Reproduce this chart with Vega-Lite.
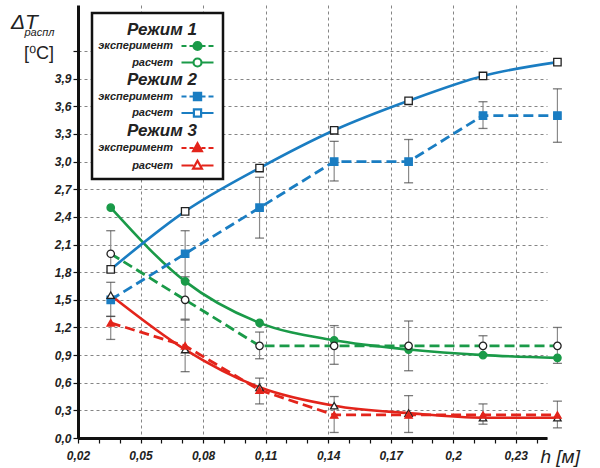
{
  "$schema": "https://vega.github.io/schema/vega-lite/v6.json",
  "width": 469,
  "height": 433,
  "autosize": {"type": "none"},
  "padding": {"left": 78, "top": 5, "right": 53, "bottom": 30},
  "background": "white",
  "title": {
    "text": "ΔT",
    "subtitle": "⠀[⁰C]",
    "anchor": "start",
    "frame": "group",
    "orient": "top",
    "offset": 0,
    "dx": -67,
    "dy": 58,
    "font": "Liberation Sans",
    "fontSize": 21,
    "fontStyle": "italic",
    "fontWeight": "normal",
    "color": "#222",
    "subtitleFont": "Liberation Sans",
    "subtitleFontSize": 18,
    "subtitleFontStyle": "normal",
    "subtitleColor": "#222",
    "subtitlePadding": 12
  },
  "config": {
    "view": {"stroke": null},
    "axis": {
      "labelFont": "Liberation Sans",
      "labelFontWeight": "bold",
      "labelFontStyle": "italic",
      "labelFontSize": 12,
      "labelColor": "#222",
      "domainColor": "#111",
      "domainWidth": 3,
      "tickColor": "#111",
      "tickWidth": 1.2,
      "tickSize": 5,
      "gridColor": "#777",
      "gridDash": [3, 3],
      "gridWidth": 0.9,
      "labelFlush": false,
      "labelOverlap": false,
      "titleFont": "Liberation Sans",
      "titleColor": "#222"
    }
  },
  "datasets": {
    "series": [
      {"h": 0.0357, "v": 2.5, "s": "1c"},
      {"h": 0.0714, "v": 1.7, "s": "1c"},
      {"h": 0.1071, "v": 1.25, "s": "1c"},
      {"h": 0.1429, "v": 1.06, "s": "1c"},
      {"h": 0.1786, "v": 0.96, "s": "1c"},
      {"h": 0.2143, "v": 0.9, "s": "1c"},
      {"h": 0.25, "v": 0.87, "s": "1c"},
      {"h": 0.0357, "v": 2.0, "s": "1e"},
      {"h": 0.0714, "v": 1.5, "s": "1e"},
      {"h": 0.1071, "v": 1.0, "s": "1e"},
      {"h": 0.1429, "v": 1.0, "s": "1e"},
      {"h": 0.1786, "v": 1.0, "s": "1e"},
      {"h": 0.2143, "v": 1.0, "s": "1e"},
      {"h": 0.25, "v": 1.0, "s": "1e"},
      {"h": 0.0357, "v": 1.83, "s": "2c"},
      {"h": 0.0714, "v": 2.46, "s": "2c"},
      {"h": 0.1071, "v": 2.93, "s": "2c"},
      {"h": 0.1429, "v": 3.34, "s": "2c"},
      {"h": 0.1786, "v": 3.66, "s": "2c"},
      {"h": 0.2143, "v": 3.93, "s": "2c"},
      {"h": 0.25, "v": 4.08, "s": "2c"},
      {"h": 0.0357, "v": 1.5, "s": "2e"},
      {"h": 0.0714, "v": 2.0, "s": "2e"},
      {"h": 0.1071, "v": 2.5, "s": "2e"},
      {"h": 0.1429, "v": 3.0, "s": "2e"},
      {"h": 0.1786, "v": 3.0, "s": "2e"},
      {"h": 0.2143, "v": 3.5, "s": "2e"},
      {"h": 0.25, "v": 3.5, "s": "2e"},
      {"h": 0.0357, "v": 1.55, "s": "3c"},
      {"h": 0.0714, "v": 0.96, "s": "3c"},
      {"h": 0.1071, "v": 0.55, "s": "3c"},
      {"h": 0.1429, "v": 0.35, "s": "3c"},
      {"h": 0.1786, "v": 0.27, "s": "3c"},
      {"h": 0.2143, "v": 0.22, "s": "3c"},
      {"h": 0.25, "v": 0.22, "s": "3c"},
      {"h": 0.0357, "v": 1.25, "s": "3e"},
      {"h": 0.0714, "v": 1.0, "s": "3e"},
      {"h": 0.1071, "v": 0.52, "s": "3e"},
      {"h": 0.1429, "v": 0.25, "s": "3e"},
      {"h": 0.1786, "v": 0.25, "s": "3e"},
      {"h": 0.2143, "v": 0.25, "s": "3e"},
      {"h": 0.25, "v": 0.25, "s": "3e"}
    ],
    "err": [
      {"h": 0.0357, "lo": 1.8, "hi": 2.25, "s": "1e"},
      {"h": 0.0357, "lo": 1.32, "hi": 1.69, "s": "2e"},
      {"h": 0.0357, "lo": 1.07, "hi": 1.32, "s": "3e"},
      {"h": 0.0714, "lo": 1.75, "hi": 2.25, "s": "2e"},
      {"h": 0.0714, "lo": 1.29, "hi": 1.71, "s": "1e"},
      {"h": 0.0714, "lo": 0.72, "hi": 1.28, "s": "3e"},
      {"h": 0.1071, "lo": 2.17, "hi": 2.83, "s": "2e"},
      {"h": 0.1071, "lo": 0.86, "hi": 1.15, "s": "1e"},
      {"h": 0.1071, "lo": 0.37, "hi": 0.65, "s": "3e"},
      {"h": 0.1429, "lo": 2.79, "hi": 3.22, "s": "2e"},
      {"h": 0.1429, "lo": 0.8, "hi": 1.22, "s": "1e"},
      {"h": 0.1429, "lo": 0.06, "hi": 0.45, "s": "3e"},
      {"h": 0.1786, "lo": 2.77, "hi": 3.24, "s": "2e"},
      {"h": 0.1786, "lo": 0.73, "hi": 1.27, "s": "1e"},
      {"h": 0.1786, "lo": 0.06, "hi": 0.46, "s": "3e"},
      {"h": 0.2143, "lo": 3.36, "hi": 3.65, "s": "2e"},
      {"h": 0.2143, "lo": 0.91, "hi": 1.11, "s": "1e"},
      {"h": 0.2143, "lo": 0.15, "hi": 0.37, "s": "3e"},
      {"h": 0.25, "lo": 3.21, "hi": 3.79, "s": "2e"},
      {"h": 0.25, "lo": 0.81, "hi": 1.2, "s": "1e"},
      {"h": 0.25, "lo": 0.11, "hi": 0.4, "s": "3e"}
    ]
  },
  "layer": [
    {
      "data": {"name": "err"},
      "mark": {"type": "rule", "color": "#8a8a8a", "strokeWidth": 1.2},
      "encoding": {
        "x": {
          "field": "h", "type": "quantitative",
          "scale": {"domain": [0.02, 0.245], "nice": false, "zero": false},
          "axis": {
            "title": "h [м]",
            "titleX": 462, "titleY": 24, "titleAlign": "left", "titleBaseline": "alphabetic",
            "titleFontSize": 19, "titleFontStyle": "italic", "titleFontWeight": "normal",
            "values": [0.02, 0.03, 0.04, 0.05, 0.06, 0.07, 0.08, 0.09, 0.1, 0.11, 0.12, 0.13, 0.14, 0.15, 0.16, 0.17, 0.18, 0.19, 0.2, 0.21, 0.22, 0.23, 0.24],
            "tickCount": 100,
            "labelExpr": "abs(round((datum.value-0.02)/0.03)*0.03-(datum.value-0.02))<0.001 ? replace(format(datum.value,'.2~f'),'.',',') : ''",
            "labelPadding": 7,
            "labelOverlap": false,
            "labelFlush": false,
            "grid": true,
            "gridOpacity": {"condition": {"test": "datum.value > 0.03 && abs(round((datum.value-0.02)/0.03)*0.03-(datum.value-0.02))<0.001", "value": 1}, "value": 0}
          }
        },
        "y": {
          "field": "lo", "type": "quantitative",
          "scale": {"domain": [0, 4.7], "nice": false, "zero": false},
          "axis": {
            "title": "распл",
            "titleAngle": 0, "titleX": -54, "titleY": 30, "titleAlign": "left", "titleBaseline": "alphabetic",
            "titleFontSize": 11, "titleFontWeight": "normal", "titleFontStyle": "italic",
            "values": [0, 0.3, 0.6, 0.9, 1.2, 1.5, 1.8, 2.1, 2.4, 2.7, 3.0, 3.3, 3.6, 3.9, 4.2],
            "tickCount": 100,
            "labelExpr": "datum.value > 4 ? '' : replace(format(datum.value,'.1f'),'.',',')",
            "labelPadding": 2,
            "labelOverlap": false,
            "labelFlush": false,
            "grid": true
          }
        },
        "y2": {"field": "hi"}
      }
    },
    {
      "data": {"name": "err"},
      "mark": {"type": "point", "shape": "stroke", "size": 81, "color": "#444", "strokeWidth": 1.3, "filled": false},
      "encoding": {
        "x": {"field": "h", "type": "quantitative"},
        "y": {"field": "lo", "type": "quantitative"}
      }
    },
    {
      "data": {"name": "err"},
      "mark": {"type": "point", "shape": "stroke", "size": 81, "color": "#444", "strokeWidth": 1.3, "filled": false},
      "encoding": {
        "x": {"field": "h", "type": "quantitative"},
        "y": {"field": "hi", "type": "quantitative"}
      }
    },
    {
      "data": {"name": "series"},
      "transform": [{"filter": "substring(datum.s,1,2) === 'c'"}],
      "mark": {"type": "line", "strokeWidth": 2.6, "interpolate": "monotone"},
      "encoding": {
        "x": {"field": "h", "type": "quantitative"},
        "y": {"field": "v", "type": "quantitative"},
        "color": {
          "field": "s", "type": "nominal",
          "scale": {
            "domain": ["R1", "1e", "1c", "R2", "2e", "2c", "R3", "3e", "3c"],
            "range": ["#000000", "#1a9a48", "#1a9a48", "#000000", "#1a7dc2", "#1a7dc2", "#000000", "#e3241b", "#e3241b"]
          },
          "legend": {
            "orient": "none", "legendX": 14, "legendY": 8,
            "title": "⠀", "titleFontSize": 6, "titlePadding": 0,
            "padding": 5, "fillColor": "white", "strokeColor": "#111",
            "symbolSize": 64, "symbolStrokeWidth": 2.2, "symbolOffset": 95,
            "labelOffset": -30, "labelAlign": "right",
            "labelFont": "Liberation Sans", "labelFontWeight": "bold", "labelFontStyle": "italic",
            "labelFontSize": 11, "labelColor": "#222", "labelLimit": 200,
            "rowPadding": -0.5,
            "labelExpr": "substring(datum.value,0,1)==='R' ? 'Режим ' + substring(datum.value,1,2) : (substring(datum.value,1,2)==='e' ? 'эксперимент' : 'расчет')",
            "encode": {
              "legend": {"update": {"strokeWidth": {"value": 2.5}}},
              "symbols": {
                "update": {
                  "shape": {"signal": "(substring(datum.value,1,2)==='e' ? 'M-4,0H-2.75M-2,0H-1M1,0H2M2.75,0H4' : 'M-4,0H-1M1,0H4') + (substring(datum.value,0,1)==='1' ? 'M-1,0A1,1,0,1,1,1,0A1,1,0,1,1,-1,0Z' : (substring(datum.value,0,1)==='2' ? 'M-0.9,-0.9H0.9V0.9H-0.9Z' : 'M0,-1.2L1.1,0.8L-1.1,0.8Z'))"},
                  "stroke": {"signal": "substring(datum.value,0,1)==='1' ? '#1a9a48' : (substring(datum.value,0,1)==='2' ? '#1a7dc2' : '#e3241b')"},
                  "fill": {"signal": "substring(datum.value,1,2)==='e' ? (substring(datum.value,0,1)==='1' ? '#1a9a48' : (substring(datum.value,0,1)==='2' ? '#1a7dc2' : '#e3241b')) : 'white'"},
                  "strokeWidth": {"value": 2.2},
                  "strokeDash": {"value": []},
                  "opacity": {"signal": "substring(datum.value,0,1)==='R' ? 0 : 1"}
                }
              },
              "labels": {
                "update": {
                  "fontSize": {"signal": "substring(datum.value,0,1)==='R' ? 17 : 11"},
                  "dx": {"signal": "substring(datum.value,0,1)==='R' ? 24 : 0"}
                }
              }
            }
          }
        }
      }
    },
    {
      "data": {"name": "series"},
      "transform": [{"filter": "substring(datum.s,1,2) === 'e'"}],
      "mark": {"type": "line", "strokeWidth": 2.8, "strokeDash": [10, 5]},
      "encoding": {
        "x": {"field": "h", "type": "quantitative"},
        "y": {"field": "v", "type": "quantitative"},
        "color": {"field": "s", "type": "nominal"}
      }
    },
    {
      "data": {"name": "series"},
      "mark": {"type": "point", "filled": true, "size": 55, "strokeWidth": 1.3, "opacity": 1},
      "encoding": {
        "x": {"field": "h", "type": "quantitative"},
        "y": {"field": "v", "type": "quantitative"},
        "shape": {
          "field": "s", "type": "nominal", "legend": null,
          "scale": {"domain": ["1e", "1c", "2e", "2c", "3e", "3c"], "range": ["circle", "circle", "square", "square", "triangle-up", "triangle-up"]}
        },
        "fill": {
          "field": "s", "type": "nominal", "legend": null,
          "scale": {"domain": ["1e", "1c", "2e", "2c", "3e", "3c"], "range": ["#ffffff", "#1a9a48", "#1a7dc2", "#ffffff", "#e3241b", "#ffffff"]}
        },
        "stroke": {
          "field": "s", "type": "nominal", "legend": null,
          "scale": {"domain": ["1e", "1c", "2e", "2c", "3e", "3c"], "range": ["#222222", "#1a9a48", "#1a7dc2", "#222222", "#e3241b", "#222222"]}
        }
      }
    },
    {
      "mark": {"type": "rule", "color": "#111", "strokeWidth": 3},
      "encoding": {
        "x": {"datum": 0.245, "type": "quantitative"},
        "x2": {"datum": 0.2685},
        "y": {"datum": 0, "type": "quantitative"}
      }
    },
    {
      "mark": {"type": "point", "shape": "M1.6,0L-0.6,0.7L-0.6,-0.7Z", "size": 64, "filled": true, "color": "#111", "opacity": 1},
      "encoding": {
        "x": {"datum": 0.267, "type": "quantitative"},
        "y": {"datum": 0, "type": "quantitative"}
      }
    },
    {
      "mark": {"type": "point", "shape": "M0,-1.6L0.7,0.6L-0.7,0.6Z", "size": 64, "filled": true, "color": "#111", "opacity": 1},
      "encoding": {
        "x": {"datum": 0.02, "type": "quantitative"},
        "y": {"datum": 4.64, "type": "quantitative"}
      }
    }
  ]
}
